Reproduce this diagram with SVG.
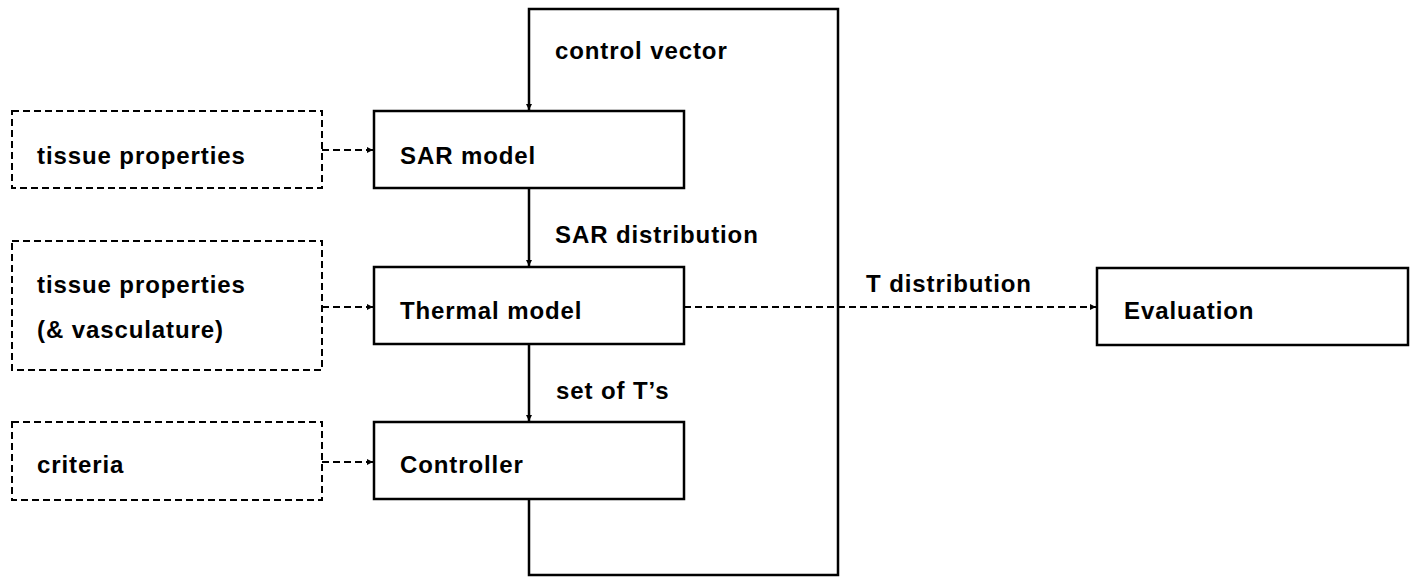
<svg xmlns="http://www.w3.org/2000/svg" width="1411" height="577" viewBox="0 0 1411 577">
<style>
.box{fill:#fff;stroke:#000;stroke-width:2.5}
.dbox{fill:#fff;stroke:#000;stroke-width:2;stroke-dasharray:7 4}
.ln{fill:none;stroke:#000;stroke-width:2.5}
.dln{fill:none;stroke:#000;stroke-width:2;stroke-dasharray:7 4}
text{font-family:"Liberation Sans",Arial,sans-serif;font-weight:bold;font-size:24px;letter-spacing:0.9px;fill:#000}
</style>
<defs>
<marker id="ah" viewBox="0 0 6 6" refX="6" refY="3" markerWidth="6" markerHeight="6" markerUnits="userSpaceOnUse" orient="auto">
<path d="M0,0 L6,3 L0,6 z" fill="#000"/>
</marker>
</defs>
<rect width="1411" height="577" fill="#fff"/>
<g id="connectors">
<path class="ln" d="M529,499 V575 H838 V9 H529 V110" marker-end="url(#ah)"/>
<path class="ln" d="M529,188 V266" marker-end="url(#ah)"/>
<path class="ln" d="M529,344 V421" marker-end="url(#ah)"/>
<path class="dln" d="M322,150 H373" marker-end="url(#ah)"/>
<path class="dln" d="M322,307 H373" marker-end="url(#ah)"/>
<path class="dln" d="M322,462 H373" marker-end="url(#ah)"/>
<path class="dln" d="M684,307 H1096" marker-end="url(#ah)"/>
<text x="555" y="59">control vector</text>
<text x="555" y="243">SAR distribution</text>
<text x="556" y="399">set of T’s</text>
<text x="866" y="292">T distribution</text>
</g>
<g id="tissue1">
<rect class="dbox" x="12" y="111" width="310" height="77"/>
<text x="37" y="164">tissue properties</text>
</g>
<g id="sar">
<rect class="box" x="374" y="111" width="310" height="77"/>
<text x="400" y="164">SAR model</text>
</g>
<g id="tissue2">
<rect class="dbox" x="12" y="241" width="310" height="129"/>
<text x="37" y="293">tissue properties</text>
<text x="37" y="338">(&amp; vasculature)</text>
</g>
<g id="thermal">
<rect class="box" x="374" y="267" width="310" height="77"/>
<text x="400" y="319">Thermal model</text>
</g>
<g id="criteria">
<rect class="dbox" x="12" y="422" width="310" height="78"/>
<text x="37" y="473">criteria</text>
</g>
<g id="controller">
<rect class="box" x="374" y="422" width="310" height="77"/>
<text x="400" y="473">Controller</text>
</g>
<g id="evaluation">
<rect class="box" x="1097" y="268" width="311" height="77"/>
<text x="1124" y="319">Evaluation</text>
</g>
</svg>
